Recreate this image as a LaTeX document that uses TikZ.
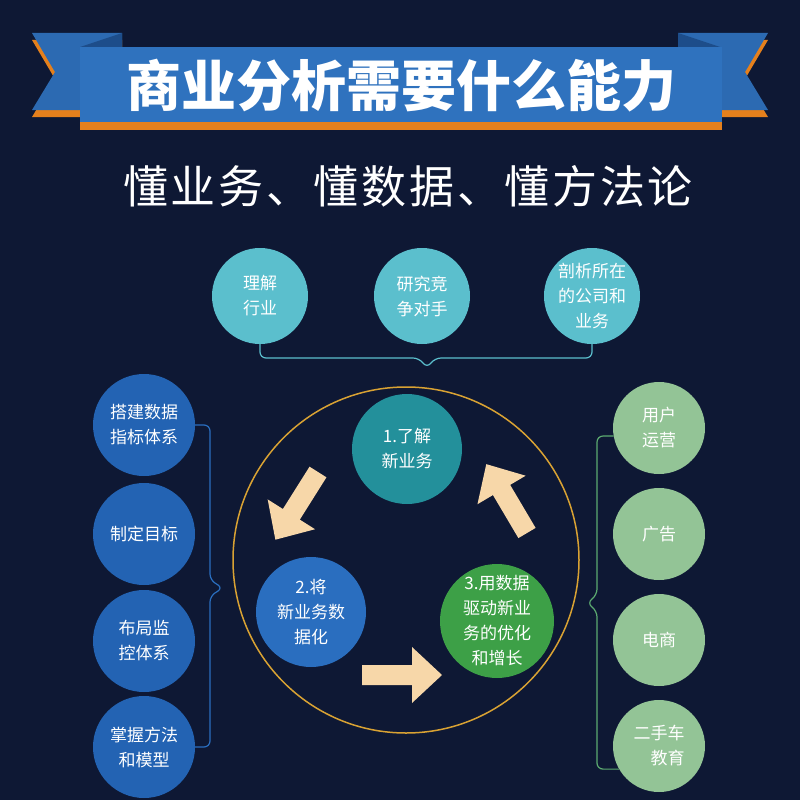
\documentclass[tikz,border=0pt]{standalone}
\usepackage{fontspec}
\setmainfont{Noto Sans CJK SC}
\definecolor{bg}{HTML}{0E1834}
\definecolor{bannerblue}{HTML}{2F72BE}
\definecolor{tailblue}{HTML}{2C6AB2}
\definecolor{folddark}{HTML}{1D4D8A}
\definecolor{ribbonorange}{HTML}{E5801C}
\definecolor{tealtop}{HTML}{5BBFCD}
\definecolor{tealmid}{HTML}{23909B}
\definecolor{bluemid}{HTML}{2A6EBF}
\definecolor{greenmid}{HTML}{3DA047}
\definecolor{blueleft}{HTML}{2363B3}
\definecolor{greenright}{HTML}{93C496}
\definecolor{gold}{HTML}{D9A233}
\definecolor{beige}{HTML}{F7D7A9}
\definecolor{bracketgreen}{HTML}{5CAA70}
\tikzset{
  ball/.style={circle, inner sep=0pt, text=white, align=center,
    font=\fontsize{17}{25}\selectfont},
  topball/.style={ball, fill=tealtop, minimum size=96pt},
  leftball/.style={ball, fill=blueleft, minimum size=102pt},
  rightball/.style={ball, fill=greenright, minimum size=92pt},
  bracketline/.style={line width=1.2pt, rounded corners=6pt},
  arrowfill/.style={fill=beige},
}
\newcommand\blockarrow[3]{%
  \fill[arrowfill, shift={(#1,#2)}, rotate=#3]
    (0,-10) -- (50,-10) -- (50,-28) -- (80,0) -- (50,28) -- (50,10) -- (0,10) -- cycle;}
\begin{document}
\begin{tikzpicture}[x=1pt, y=-1pt]
\fill[bg] (0,0) rectangle (800,800);
\useasboundingbox (0,0) rectangle (800,800);
% ribbon tails (orange back)
\fill[ribbonorange] (32,40) -- (122,40) -- (122,117) -- (32,117) -- (55,79) -- cycle;
\fill[ribbonorange] (768,40) -- (678,40) -- (678,117) -- (768,117) -- (745,79) -- cycle;
% ribbon tails (blue)
\fill[tailblue] (32,33) -- (122,33) -- (122,110) -- (32,110) -- (55,72) -- cycle;
\fill[tailblue] (768,33) -- (678,33) -- (678,110) -- (768,110) -- (745,72) -- cycle;
% folds
\fill[folddark] (122,33) -- (80,47) -- (122,47) -- cycle;
\fill[folddark] (678,33) -- (720,47) -- (678,47) -- cycle;
% main banner
\fill[ribbonorange] (80,47) rectangle (722,130);
\fill[bannerblue] (80,47) rectangle (722,122);
\node[text=white, font=\fontsize{55}{60}\selectfont\bfseries] (title) at (401,86) {商业分析需要什么能力};
% subtitle
\node[text=white, font=\fontsize{45}{50}\selectfont\addfontfeature{LetterSpace=6}] (subtitle) at (408,186) {懂业务、懂数据、懂方法论};
% top circles
\node[topball] (t1) at (260,296) {理解\\行业};
\node[topball] (t2) at (422,296) {研究竞\\争对手};
\node[topball] (t3) at (592,296) {剖析所在\\的公司和\\业务};
\coordinate (ttip) at (427,368);
\draw[tealtop, bracketline] (t1.south) |- (419,358) -- (ttip) -- (435,358) -| (t3.south);
% central ring
\node[circle, draw=gold, line width=1.5pt, minimum size=346pt, inner sep=0pt] (ring) at (406,560) {};
\node[ball, fill=tealmid, minimum size=110pt] (c1) at (407,449) {1.了解\\新业务};
\node[ball, fill=bluemid, minimum size=110pt] (c2) at (311,612) {2.将\\新业务数\\据化};
\node[ball, fill=greenmid, minimum size=114pt] (c3) at (497,621) {3.用数据\\驱动新业\\务的优化\\和增长};
\blockarrow{318}{472}{237.8}
\blockarrow{362}{675}{0}
\blockarrow{527}{533}{120.6}
% left circles
\node[leftball] (l1) at (144,425) {搭建数据\\指标体系};
\node[leftball] (l2) at (144,534) {制定目标};
\node[leftball] (l3) at (144,641) {布局监\\控体系};
\node[leftball] (l4) at (144,747) {掌握方法\\和模型};
\coordinate (ltip) at (223,588);
\draw[bluemid, bracketline] (l1.east) -| (210,580) -- (ltip) -- (210,596) |- (l4.east);
% right circles
\node[rightball] (r1) at (659,428) {用户\\运营};
\node[rightball] (r2) at (659,534) {广告};
\node[rightball] (r3) at (659,640) {电商};
\node[rightball, align=right] (r4) at (659,746) {二手车\\教育};
\coordinate (rtip) at (587,603);
\draw[bracketgreen, bracketline] (r1.190) -| (597,595) -- (rtip) -- (597,611) |- (r4.210);
\end{tikzpicture}
\end{document}
